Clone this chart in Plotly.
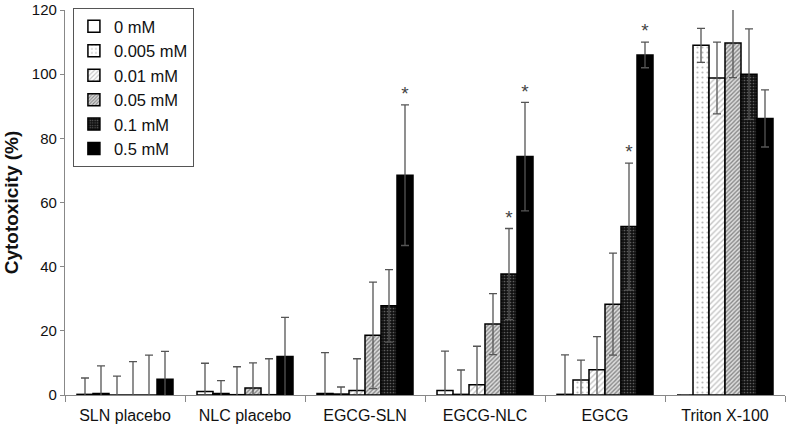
import plotly.graph_objects as go

categories = ["SLN placebo", "NLC placebo", "EGCG-SLN", "EGCG-NLC", "EGCG", "Triton X-100"]
series_names = ["0 mM", "0.005 mM", "0.01 mM", "0.05 mM", "0.1 mM", "0.5 mM"]

v_0 = [0.2, 1.1, 0.5, 1.4, 0.2, 0.0]
v_0005 = [0.5, 0.5, 0.3, 0.2, 4.7, 109.0]
v_001 = [0.0, 0.1, 1.4, 3.2, 7.9, 98.8]
v_005 = [0.0, 2.2, 18.6, 22.1, 28.3, 109.7]
v_01 = [0.0, 0.1, 27.8, 37.7, 52.5, 100.0]
v_05 = [4.9, 12.0, 68.5, 74.3, 106.0, 86.2]

e_0 = [5.1, 8.8, 12.7, 12.3, 12.3, None]
e_0005 = [8.6, 4.0, 2.2, 7.6, 6.2, 5.3]
e_001 = [5.9, 8.7, 9.9, 12.0, 10.3, 11.2]
e_005 = [10.4, 7.8, 16.6, 9.5, 15.9, 10.8]
e_01 = [12.4, 11.2, 11.3, 14.2, 19.8, 14.1]
e_05 = [8.7, 12.2, 21.9, 16.9, 4.0, 8.9]

# significance markers (1 = asterisk)
s_0 = [0, 0, 0, 0, 0, 0]
s_0005 = [0, 0, 0, 0, 0, 0]
s_001 = [0, 0, 0, 0, 0, 0]
s_005 = [0, 0, 0, 0, 0, 0]
s_01 = [0, 0, 0, 1, 1, 0]
s_05 = [0, 0, 1, 1, 1, 0]

y_ticks = [0, 20, 40, 60, 80, 100, 120]

values = [v_0, v_0005, v_001, v_005, v_01, v_05]
errors = [e_0, e_0005, e_001, e_005, e_01, e_05]
stars = [s_0, s_0005, s_001, s_005, s_01, s_05]

patterns = [
    dict(shape="", bgcolor="white"),
    dict(shape=".", fgcolor="#777777", bgcolor="white", size=5, solidity=0.15),
    dict(shape="/", fgcolor="#8a8a8a", bgcolor="white", size=4, solidity=0.35),
    dict(shape="/", fgcolor="#333333", bgcolor="#dddddd", size=3, solidity=0.45),
    dict(shape=".", fgcolor="#aaaaaa", bgcolor="#111111", size=3, solidity=0.25),
    dict(shape="", bgcolor="black"),
]
colors = ["white", "white", "white", "#dddddd", "#111111", "black"]

n = len(series_names)
group_frac = 0.8
bw = group_frac / n

fig = go.Figure()
for j, name in enumerate(series_names):
    xs = [i + (j - (n - 1) / 2) * bw for i in range(len(categories))]
    fig.add_trace(go.Bar(
        x=xs, y=values[j], width=bw, name=name,
        marker=dict(color=colors[j], line=dict(color="black", width=1.5),
                    pattern=patterns[j]),
        error_y=dict(type="data", array=errors[j], visible=True,
                     color="#555555", thickness=1.3, width=4),
    ))
    sx, sy = [], []
    for i in range(len(categories)):
        if stars[j][i]:
            sx.append(xs[i])
            sy.append(values[j][i] + (errors[j][i] or 0))
    if sx:
        fig.add_trace(go.Scatter(
            x=sx, y=sy, mode="text", text=["*"] * len(sx),
            textposition="top center", showlegend=False, hoverinfo="skip",
            textfont=dict(size=19, color="#444444", family="Liberation Sans, Arial"),
        ))

fig.update_layout(
    width=786, height=425,
    margin=dict(l=65, r=1, t=9, b=27),
    plot_bgcolor="white", paper_bgcolor="white",
    barmode="overlay",
    font=dict(family="Liberation Sans, Arial", color="#111111"),
    showlegend=True,
    legend=dict(x=0.011, y=1.005, xanchor="left", yanchor="top",
                bordercolor="#555555", borderwidth=1, bgcolor="white",
                font=dict(size=16.5), tracegroupgap=0,
                itemwidth=30),
)
fig.update_xaxes(
    range=[-0.5, len(categories) - 0.5],
    tickmode="array", tickvals=list(range(len(categories))), ticktext=categories,
    ticks="outside", ticklen=6, tickcolor="rgba(0,0,0,0)",
    showline=True, linecolor="#888888", linewidth=1.2,
    tickfont=dict(size=16),
    minor=dict(tickmode="linear", tick0=0.5, dtick=1, ticks="outside",
               ticklen=6, tickcolor="#888888", showgrid=False),
    showgrid=False, zeroline=False,
)
fig.update_yaxes(
    range=[0, 120], tickmode="array", tickvals=y_ticks,
    ticktext=[str(t) for t in y_ticks],
    ticks="outside", ticklen=4, tickcolor="#888888",
    showline=True, linecolor="#888888", linewidth=1.2,
    tickfont=dict(size=15), showgrid=False, zeroline=False,
    title=dict(text="<b>Cytotoxicity (%)</b>", font=dict(size=19), standoff=8),
)

fig.write_html("out.html", config={"displayModeBar": False},
               post_script="document.body.style.margin='0';document.body.style.padding='0';")
